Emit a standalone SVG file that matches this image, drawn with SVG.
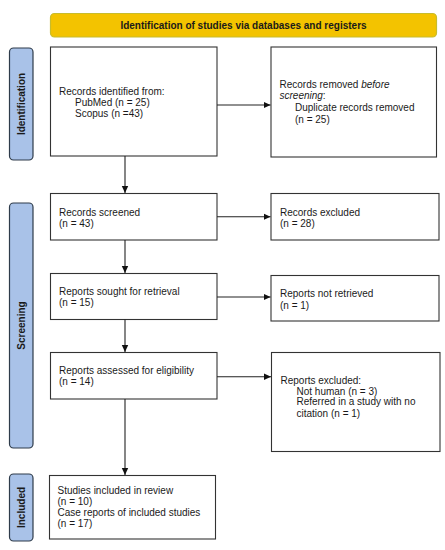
<svg xmlns="http://www.w3.org/2000/svg" width="445" height="550" viewBox="0 0 445 550">
<defs>
<marker id="ah" markerWidth="8" markerHeight="8" refX="7" refY="4" orient="auto" markerUnits="userSpaceOnUse">
<path d="M0,0.8 L7,4 L0,7.2 Z" fill="#111"/>
</marker>
<style>
.box{fill:#fff;stroke:#333;stroke-width:1.1}
.side{fill:#a9c2e8;stroke:#2e3b4a;stroke-width:1.2}
.t{font-family:"Liberation Sans",Arial,sans-serif;font-size:10px;fill:#1a1a1a}
.b{font-family:"Liberation Sans",Arial,sans-serif;font-size:10px;font-weight:bold;fill:#1a1a1a}
.c{stroke:#222;stroke-width:1.1;fill:none;marker-end:url(#ah)}
</style>
</defs>
<rect width="445" height="550" fill="#fff"/>
<g id="header">
<rect x="50.5" y="13.5" width="386" height="23.5" rx="4" fill="#f3c300" stroke="#c8bc2c" stroke-width="1.2"/>
<text class="b" x="243.5" y="29" text-anchor="middle" fill="#2a1a00">Identification of studies via databases and registers</text>
</g>
<g id="label-identification">
<rect class="side" x="9.5" y="48" width="23.5" height="112" rx="4"/>
<text class="b" transform="translate(25,104) rotate(-90)" text-anchor="middle">Identification</text>
</g>
<g id="label-screening">
<rect class="side" x="9.5" y="203" width="23.5" height="245" rx="4"/>
<text class="b" transform="translate(25,325.5) rotate(-90)" text-anchor="middle">Screening</text>
</g>
<g id="label-included">
<rect class="side" x="9.5" y="474" width="23.5" height="67" rx="4"/>
<text class="b" transform="translate(25,507.5) rotate(-90)" text-anchor="middle">Included</text>
</g>
<g id="records-identified">
<rect class="box" x="50.5" y="47" width="166.5" height="109"/>
<text class="t" x="59" y="94.5">Records identified from:</text>
<text class="t" x="75" y="105.8">PubMed (n = 25)</text>
<text class="t" x="75" y="116.8">Scopus (n =43)</text>
</g>
<g id="records-removed">
<rect class="box" x="271" y="47" width="165.5" height="110"/>
<text class="t" x="279.5" y="87.5">Records removed <tspan font-style="italic">before</tspan></text>
<text class="t" x="279.5" y="99"><tspan font-style="italic">screening</tspan>:</text>
<text class="t" x="295" y="111">Duplicate records removed</text>
<text class="t" x="295" y="123.2">(n = 25)</text>
</g>
<g id="records-screened">
<rect class="box" x="50.5" y="193.5" width="166.5" height="46.5"/>
<text class="t" x="59" y="215.5">Records screened</text>
<text class="t" x="59" y="226.8">(n = 43)</text>
</g>
<g id="records-excluded">
<rect class="box" x="271" y="193.5" width="168" height="46.5"/>
<text class="t" x="280" y="215.5">Records excluded</text>
<text class="t" x="280" y="226.8">(n = 28)</text>
</g>
<g id="reports-sought">
<rect class="box" x="50.5" y="273.5" width="166.5" height="46"/>
<text class="t" x="59" y="294.5">Reports sought for retrieval</text>
<text class="t" x="59" y="306.3">(n = 15)</text>
</g>
<g id="reports-not-retrieved">
<rect class="box" x="271" y="275.5" width="168" height="45.5"/>
<text class="t" x="280" y="296.5">Reports not retrieved</text>
<text class="t" x="280" y="309">(n = 1)</text>
</g>
<g id="reports-assessed">
<rect class="box" x="50.5" y="352.5" width="166.5" height="46.5"/>
<text class="t" x="59" y="373.5">Reports assessed for eligibility</text>
<text class="t" x="59" y="385">(n = 14)</text>
</g>
<g id="reports-excluded">
<rect class="box" x="271.5" y="352.5" width="168.5" height="99"/>
<text class="t" x="280.5" y="383.5">Reports excluded:</text>
<text class="t" x="296.5" y="394.5">Not human (n = 3)</text>
<text class="t" x="296.5" y="405.2">Referred in a study with no</text>
<text class="t" x="296.5" y="416.5">citation (n = 1)</text>
</g>
<g id="studies-included">
<rect class="box" x="49.5" y="475.5" width="166" height="63.5"/>
<text class="t" x="57.5" y="494">Studies included in review</text>
<text class="t" x="57.5" y="505">(n = 10)</text>
<text class="t" x="57.5" y="516">Case reports of included studies</text>
<text class="t" x="57.5" y="527.3">(n = 17)</text>
</g>
<g id="connectors">
<line class="c" x1="217" y1="105" x2="270.5" y2="105"/>
<line class="c" x1="217" y1="216.7" x2="270.5" y2="216.7"/>
<line class="c" x1="217" y1="297" x2="270.5" y2="297"/>
<line class="c" x1="217" y1="376.7" x2="271" y2="376.7"/>
<line class="c" x1="125" y1="156" x2="125" y2="193"/>
<line class="c" x1="125" y1="240" x2="125" y2="273"/>
<line class="c" x1="125" y1="319.5" x2="125" y2="352"/>
<line class="c" x1="125" y1="399" x2="125" y2="475"/>
</g>
</svg>
